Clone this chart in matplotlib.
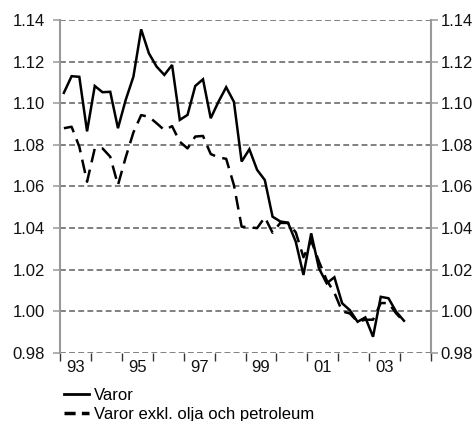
import matplotlib
matplotlib.use("Agg")
from matplotlib import pyplot as plt
from matplotlib.lines import Line2D
import numpy as np

plt.rcParams['font.family'] = ['Liberation Sans', 'DejaVu Sans']

# quarterly index 1993Q1 - 2004Q1
start_year = 1993
varor = [1.105, 1.113, 1.1127, 1.0865, 1.1083, 1.1053, 1.1055, 1.088,
         1.1016, 1.1128, 1.1355, 1.124, 1.1176, 1.1136, 1.1184, 1.092,
         1.0944, 1.1083, 1.1115, 1.0928, 1.1007, 1.1077, 1.1007, 1.072,
         1.0779, 1.068, 1.0631, 1.0455, 1.0432, 1.0426, 1.0335, 1.0175,
         1.0375, 1.0207, 1.0135, 1.0164, 1.0039, 1.0006, 0.995, 0.9971,
         0.9878, 1.007, 1.0063, 0.9998, 0.9955]
varor_exkl = [1.088, 1.0887, 1.0791, 1.0623, 1.0783, 1.0783, 1.0743, 1.0607,
              1.074, 1.086, 1.0943, 1.0935, 1.0904, 1.0871, 1.089, 1.0815,
              1.0783, 1.084, 1.0843, 1.0756, 1.074, 1.0733, 1.0607, 1.0407,
              1.0404, 1.040, 1.0452, 1.0378, 1.0425, 1.0425, 1.038, 1.026,
              1.034, 1.024, 1.015, 1.009, 1.000, 0.999, 0.995, 0.996,
              0.996, 1.004, 1.004, 0.999, 0.995]
year_labels = ['93', '95', '97', '99', '01', '03']
y_ticks = [0.98, 1.00, 1.02, 1.04, 1.06, 1.08, 1.10, 1.12, 1.14]
series_names = ['Varor', 'Varor exkl. olja och petroleum']

x = start_year + (np.arange(len(varor)) + 0.5) / 4.0

fig = plt.figure(figsize=(4.77, 4.21), dpi=100)
ax = fig.add_axes([60/477, 68/421, 371/477, 333/421])

ax.plot(x, varor, color='black', lw=1.8, solid_joinstyle='miter')
ax.plot(x, varor_exkl, color='black', lw=1.8, dashes=(5.5, 3))

ax.set_xlim(1993, 2005)
ax.set_ylim(0.98, 1.14)

gridc = '#808080'
fs = 12
ax.set_yticks(y_ticks)
ax.set_yticklabels(['%.2f' % v for v in y_ticks])
ax.yaxis.grid(True, color=gridc, lw=1.4, dashes=(3, 1.7))
ax.set_axisbelow(True)

ax.set_xticks(np.arange(1993, 2006))
ax.set_xticklabels([])
ax.set_xticks([int('19' + s) + 0.5 if s[0] == '9' else int('20' + s) + 0.5
               for s in year_labels], minor=True)
ax.set_xticklabels(year_labels, minor=True)
ax.tick_params(axis='x', which='major', direction='out', length=6,
               color='#333333', width=1)
ax.tick_params(axis='x', which='minor', length=0, pad=5, labelsize=fs,
               labelcolor='#111111')
ax.tick_params(axis='y', length=5, color='#999999', width=1.1, pad=6,
               labelsize=fs, labelcolor='#111111')

for s in ['top', 'bottom']:
    ax.spines[s].set_visible(False)
for s in ['left', 'right']:
    ax.spines[s].set_color('#999999')
    ax.spines[s].set_linewidth(1.5)

ax2 = ax.twinx()
ax2.set_ylim(0.98, 1.14)
ax2.set_yticks(y_ticks)
ax2.set_yticklabels(['%.2f' % v for v in y_ticks])
ax2.tick_params(axis='y', length=5, color='#999999', width=1.1, pad=2,
                labelsize=fs, labelcolor='#111111')
for s in ['top', 'bottom', 'left', 'right']:
    ax2.spines[s].set_visible(False)

handles = [Line2D([], [], color='black', lw=2),
           Line2D([], [], color='black', lw=2.5, dashes=(3.2, 1.8))]
leg = ax.legend(handles, series_names, loc='upper left',
                bbox_to_anchor=(64/477, (421 - 388)/421),
                bbox_transform=fig.transFigure, frameon=False,
                fontsize=fs, handlelength=1.5, handletextpad=0.3,
                labelspacing=0.25, borderpad=0, borderaxespad=0)

fig.savefig('out.png', dpi=100)
